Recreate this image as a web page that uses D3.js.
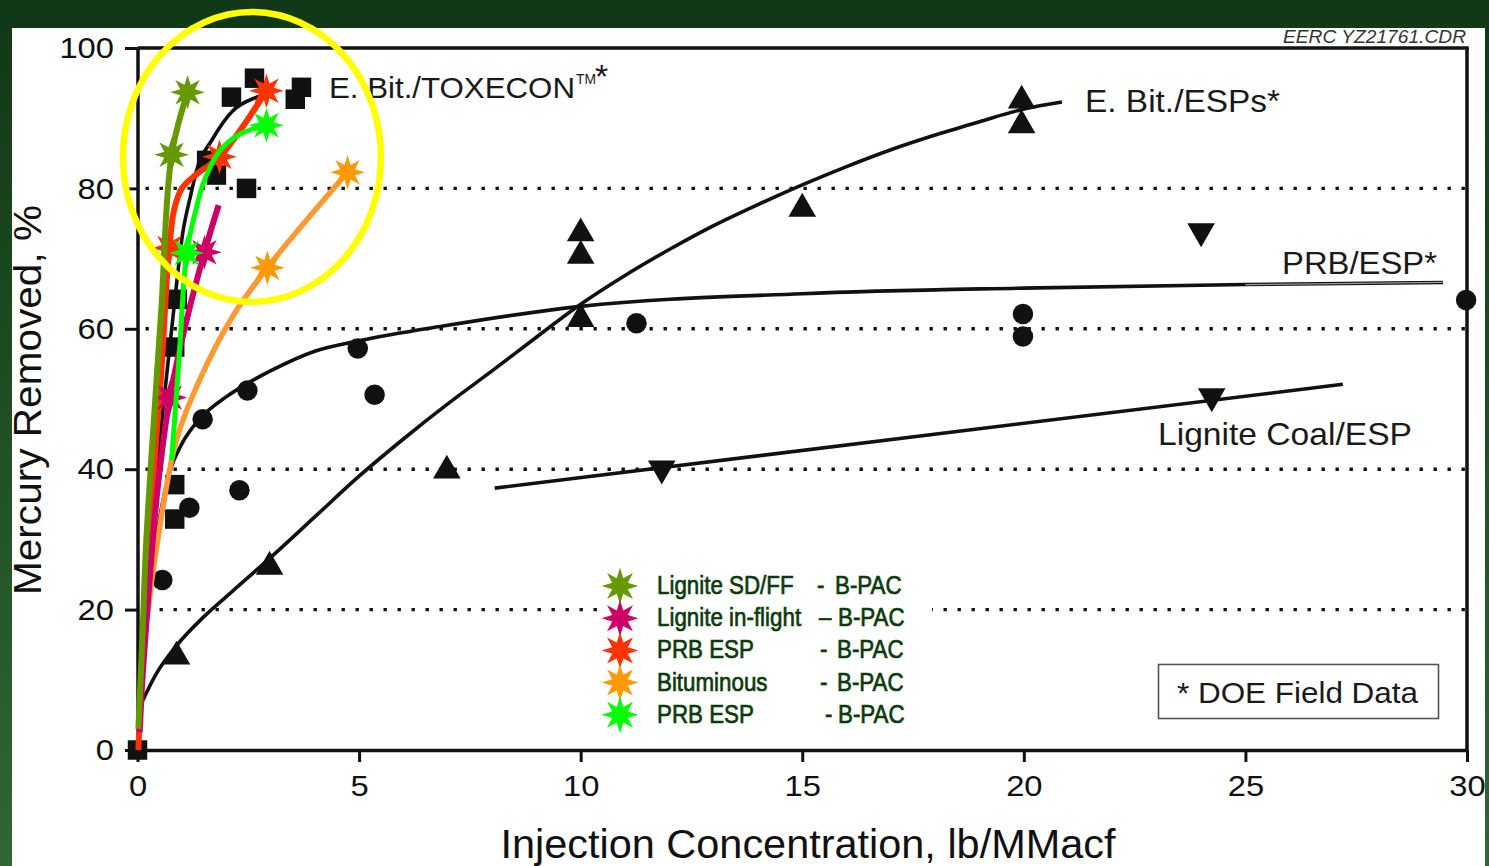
<!DOCTYPE html>
<html>
<head>
<meta charset="utf-8">
<script src="https://cdn.jsdelivr.net/npm/d3@7"></script>
<style>
  html, body { margin: 0; padding: 0; overflow: hidden; background: #1f4f22; }
  svg { display: block; }
  text { font-family: "Liberation Sans", Arial, Helvetica, sans-serif; }
</style>
</head>
<body>
<svg id="chart" width="1489" height="866"></svg>
<script>
// ---------- data (x = injection concentration lb/MMacf, y = mercury removed %) ----------

// E. Bit./TOXECON (squares) and its fitted curve
const toxeconPoints = [[0,0],[0.84,37.8],[0.84,32.9],[0.84,57.4],[0.9,64.2],[1.56,84],[1.78,81.9],
  [2.12,93],[2.64,95.7],[2.46,80],[3.7,94.4],[3.56,92.7]];
const toxeconCurve = [[0,0],[0.3,30],[0.6,50],[0.84,64],[1.02,73.6],[1.2,79],[1.33,82.5],
  [1.69,87],[2.14,91],[2.69,93],[3.0,93.7]];

// PRB/ESP (circles) and its fitted curve
const prbPoints = [[0.56,24.2],[1.17,34.5],[1.47,47.1],[2.48,51.2],[2.3,37],[4.97,57.2],[5.35,50.6],
  [11.26,60.8],[19.98,62.1],[19.98,58.9],[29.98,64.1]];
const prbCurve = [[0,0],[0.2,17],[0.45,31],[0.72,39.5],[1,43.6],[1.47,47.6],[2,50.3],[2.5,52.3],
  [3,54],[4,56.8],[5,58.3],[7,60.5],[10,63.2],[15,65],[20,65.8],[25,66.3],[29.46,66.6]];
const prbFadeFrom = 21.9;

// E. Bit./ESPs (triangles) and its fitted curve
const espPoints = [[0.88,13.3],[2.98,26.1],[6.98,39.8],[10,73.6],[10,70.4],[10,61.4],[15,77.1],
  [19.95,92.5],[19.95,89]];
const espCurve = [[0.07,6.4],[0.4,10.6],[0.9,15],[1.5,19],[2.14,22.6],[3,27.4],[4,33.2],[5,39],
  [6,44.3],[7,49.3],[8,54],[9,58.8],[10,63.5],[11,67.6],[12,71.3],[13,74.7],[14,77.7],[15,80.5],
  [16,83.1],[17,85.5],[18,87.6],[19,89.5],[20,91.3],[20.86,92.3]];

// Lignite Coal/ESP (down triangles) and its linear fit
const lignitePoints = [[11.83,40.1],[24.24,50.4],[24.0,73.9]];
const ligniteFit = [[8.06,37.3],[27.2,52.1]];

// B-PAC series: curve points and starred data points
const sdffLine = [[0.02,3],[0.11,16],[0.2,30],[0.43,52.7],[0.54,63],[0.77,84.8],[1.13,93.7]];
const sdffStars = [[0.77,84.8],[1.13,93.7]];
const inflightLine = [[0.05,2.5],[0.11,10],[0.27,24],[0.45,37],[0.73,50.2],[1.1,61],[1.51,70.9],[1.83,77.6]];
const inflightStars = [[0.73,50.2],[1.51,70.9]];
const prbEspLine = [[0.02,0],[0.1,12],[0.25,28],[0.43,45],[0.54,54],[0.65,66],[0.72,71.5],[0.82,76.8],
  [1.0,80],[1.33,82],[1.85,84.5],[2.91,93.9]];
const prbEspStars = [[0.72,71.5],[1.85,84.5],[2.91,93.9]];
const bitLine = [[0.05,7.1],[0.2,18],[0.47,30.5],[0.88,44.2],[1.4,52.7],[2.14,61.7],[2.93,68.7],[4.74,82.3]];
const bitStars = [[2.93,68.7],[4.74,82.3]];
const prbEsp2Line = [[0.77,41.3],[0.94,56],[1.11,70.8],[1.3,76.5],[1.5,81],[1.85,85.3],[2.3,87.7],[2.91,89]];
const prbEsp2Stars = [[1.11,70.8],[2.91,89]];

// axis ticks and labels
const xTicks = [0,5,10,15,20,25,30];
const yTicks = [0,20,40,60,80,100];
const gridValues = [20,40,60,80];
const xTitle = "Injection Concentration, lb/MMacf";
const yTitle = "Mercury Removed, %";

// legend entries
const legendNames = ["Lignite SD/FF","Lignite in-flight","PRB ESP","Bituminous","PRB ESP"];
const legendDashes = ["-","\u2013","-","-","-"];
const legendSuffix = "B-PAC";

// ---------- drawing ----------
const svg = d3.select("#chart");
const W = 1489, H = 866;

const defs = svg.append("defs");
const grad = defs.append("linearGradient").attr("id","bgGrad")
  .attr("gradientUnits","userSpaceOnUse").attr("x1",0).attr("y1",0).attr("x2",0).attr("y2",H);
grad.append("stop").attr("offset","0%").attr("stop-color","#103816");
grad.append("stop").attr("offset","100%").attr("stop-color","#306733");

svg.append("rect").attr("width",W).attr("height",H).attr("fill","url(#bgGrad)");
svg.append("rect").attr("x",12).attr("y",28).attr("width",1473).attr("height",H-28).attr("fill","#fff");

const x = d3.scaleLinear().domain([0,30]).range([137.5,1467]);
const y = d3.scaleLinear().domain([0,100]).range([750,48]);

const plot = svg.append("g");

// dotted gridlines
plot.append("g").selectAll("line").data(gridValues).join("line")
  .attr("x1", x(0) + 8).attr("x2", x(30))
  .attr("y1", d => y(d)).attr("y2", d => y(d))
  .attr("stroke","#111").attr("stroke-width",3.4)
  .attr("stroke-dasharray","3.4 10.6");

// axes
const gx = plot.append("g").attr("transform",`translate(0,${y(0)})`)
  .call(d3.axisBottom(x).tickValues(xTicks).tickSize(12).tickSizeOuter(0).tickPadding(13));
const gy = plot.append("g").attr("transform",`translate(${x(0)},0)`)
  .call(d3.axisLeft(y).tickValues(yTicks).tickSize(12.5).tickSizeOuter(0).tickPadding(11));
[gx, gy].forEach(g => {
  g.select(".domain").attr("stroke","#111").attr("stroke-width",3.5);
  g.selectAll(".tick line").attr("stroke","#111").attr("stroke-width",3);
  g.selectAll(".tick text").attr("fill","#111").style("font-size","30px")
    .style("font-family","'Liberation Sans', Arial, sans-serif")
    .attr("textLength", function() { return this.textContent.length * 18.2; })
    .attr("lengthAdjust","spacingAndGlyphs");
});
// frame top and right
plot.append("line").attr("x1",x(0)).attr("x2",x(30)+1.75).attr("y1",y(100)).attr("y2",y(100))
  .attr("stroke","#111").attr("stroke-width",3.5);
plot.append("line").attr("x1",x(30)).attr("x2",x(30)).attr("y1",y(100)).attr("y2",y(0))
  .attr("stroke","#111").attr("stroke-width",3.5);

// axis titles
svg.append("text").attr("x",808).attr("y",858).attr("text-anchor","middle")
  .attr("fill","#111").style("font-size","40px").text(xTitle)
  .attr("textLength",615).attr("lengthAdjust","spacingAndGlyphs");
svg.append("text").attr("transform","translate(41,400) rotate(-90)").attr("text-anchor","middle")
  .attr("fill","#111").style("font-size","39px").text(yTitle)
  .attr("textLength",390).attr("lengthAdjust","spacingAndGlyphs");

// black fitted curves
const lineGen = d3.line().x(d => x(d[0])).y(d => y(d[1])).curve(d3.curveMonotoneX);
const blackCurves = [toxeconCurve, prbCurve, espCurve, ligniteFit];
plot.append("g").selectAll("path").data(blackCurves).join("path")
  .attr("d", lineGen).attr("fill","none").attr("stroke","#111").attr("stroke-width",3.6)
  .attr("stroke-linecap","butt");
// faded tail of the PRB/ESP curve
plot.append("path").datum(prbCurve.filter(d => d[0] >= prbFadeFrom))
  .attr("d", lineGen)
  .attr("fill","none").attr("stroke","#9a9a9a").attr("stroke-width",1.3);

// black markers
const sym = (type, size) => d3.symbol().type(type).size(size)();
const markerGroup = plot.append("g").attr("fill","#111");
markerGroup.selectAll(".sq").data(toxeconPoints).join("path").attr("class","sq")
  .attr("transform", d => `translate(${x(d[0])},${y(d[1])})`).attr("d", sym(d3.symbolSquare, 380));
markerGroup.selectAll(".ci").data(prbPoints).join("path").attr("class","ci")
  .attr("transform", d => `translate(${x(d[0])},${y(d[1])})`).attr("d", sym(d3.symbolCircle, 330));
markerGroup.selectAll(".tu").data(espPoints).join("path").attr("class","tu")
  .attr("transform", d => `translate(${x(d[0])},${y(d[1])})`).attr("d", sym(d3.symbolTriangle, 330));
markerGroup.selectAll(".td").data(lignitePoints).join("path").attr("class","td")
  .attr("transform", d => `translate(${x(d[0])},${y(d[1])}) rotate(180)`).attr("d", sym(d3.symbolTriangle, 330));

// curve labels
const labels = plot.append("g").attr("fill","#1a1a1a");
labels.append("text").attr("x",329).attr("y",98).style("font-size","30px")
  .attr("textLength",246).attr("lengthAdjust","spacingAndGlyphs").text("E. Bit./TOXECON");
labels.append("text").attr("x",576).attr("y",84).style("font-size","14px")
  .attr("textLength",20).attr("lengthAdjust","spacingAndGlyphs").text("TM");
labels.append("text").attr("x",595).attr("y",88).style("font-size","34px").text("*");
labels.append("text").attr("x",1085).attr("y",112).style("font-size","32px")
  .attr("textLength",195).attr("lengthAdjust","spacingAndGlyphs").text("E. Bit./ESPs*");
labels.append("text").attr("x",1282).attr("y",274).style("font-size","32px")
  .attr("textLength",155).attr("lengthAdjust","spacingAndGlyphs").text("PRB/ESP*");
labels.append("text").attr("x",1158).attr("y",445).style("font-size","32px")
  .attr("textLength",254).attr("lengthAdjust","spacingAndGlyphs").text("Lignite Coal/ESP");

// field-data note box
plot.append("rect").attr("x",1158.5).attr("y",664.5).attr("width",280).attr("height",54)
  .attr("fill","#fff").attr("stroke","#555").attr("stroke-width",1.6);
plot.append("text").attr("x",1177).attr("y",703).attr("fill","#1a1a1a").style("font-size","30px")
  .attr("textLength",241).attr("lengthAdjust","spacingAndGlyphs").text("* DOE Field Data");

// drawing id
svg.append("text").attr("x",1466).attr("y",43).attr("text-anchor","end")
  .attr("fill","#333").style("font-size","18px").style("font-style","italic")
  .attr("textLength",183).attr("lengthAdjust","spacingAndGlyphs").text("EERC YZ21761.CDR");

// eight-point star symbol
const star8 = {
  draw(ctx, size) {
    const R = Math.sqrt(size) / 2, r = R * 0.46;
    for (let i = 0; i < 16; i++) {
      const a = -Math.PI / 2 + i * Math.PI / 8;
      const rad = i % 2 ? r : R;
      const px = Math.cos(a) * rad, py = Math.sin(a) * rad;
      if (i === 0) ctx.moveTo(px, py); else ctx.lineTo(px, py);
    }
    ctx.closePath();
  }
};

// B-PAC series
const bpac = [
  { line: prbEspLine,   stars: prbEspStars,   stroke: "#ff3300", fill: "#ff3300", w: 6 },
  { line: bitLine,      stars: bitStars,      stroke: "#ff9933", fill: "#ff9900", w: 5.5 },
  { line: inflightLine, stars: inflightStars, stroke: "#cc0066", fill: "#cc0066", w: 6 },
  { line: sdffLine,     stars: sdffStars,     stroke: "#669900", fill: "#669900", w: 6 },
  { line: prbEsp2Line,  stars: prbEsp2Stars,  stroke: "#00ff00", fill: "#00ff00", w: 5 }
];
const colorLine = d3.line().x(d => x(d[0])).y(d => y(d[1])).curve(d3.curveCatmullRom.alpha(0.5));
const starPath = d3.symbol().type(star8).size(1200)();
bpac.forEach(s => {
  const g = plot.append("g");
  g.append("path").datum(s.line).attr("d", colorLine).attr("fill","none")
    .attr("stroke", s.stroke).attr("stroke-width", s.w).attr("stroke-linejoin","round");
  g.selectAll("path.star").data(s.stars).join("path").attr("class","star")
    .attr("transform", d => `translate(${x(d[0])},${y(d[1])})`)
    .attr("d", starPath).attr("fill", s.fill);
});

// legend: narrow lettering made by squeezing the row horizontally
const legendColors = ["#669900","#cc0066","#ff3300","#ff9900","#00ff00"];
const legendDashX = [817,819,820,820,825];
const legendSuffixX = [835,838,837,837,838];
const squeeze = 0.86;
const lg = plot.append("g");
lg.append("rect").attr("x",598).attr("y",568).attr("width",334).attr("height",162).attr("fill","#fff");
const rowY = i => 586 + i * 32.2;
const legendStar = d3.symbol().type(star8).size(1350)();
legendNames.forEach((name, i) => {
  lg.append("path").attr("transform",`translate(620,${rowY(i)})`).attr("d",legendStar)
    .attr("fill",legendColors[i]);
  const row = lg.append("g").attr("transform",`translate(0,${rowY(i) + 8}) scale(${squeeze},1)`)
    .attr("fill","#0b3b0b").attr("stroke","#0b3b0b").attr("stroke-width",0.7)
    .style("font-size","26px");
  row.append("text").attr("x",657 / squeeze).text(name);
  row.append("text").attr("x",legendDashX[i] / squeeze).text(legendDashes[i]);
  row.append("text").attr("x",legendSuffixX[i] / squeeze).text(legendSuffix);
});

// right frame band overlays the clipped edge
svg.append("rect").attr("x",1485).attr("y",0).attr("width",4).attr("height",H).attr("fill","url(#bgGrad)");

// highlight ellipse around the B-PAC results
svg.append("ellipse").attr("cx",252).attr("cy",157).attr("rx",129).attr("ry",145)
  .attr("fill","none").attr("stroke","#ffff00").attr("stroke-width",6.5);
</script>
</body>
</html>
